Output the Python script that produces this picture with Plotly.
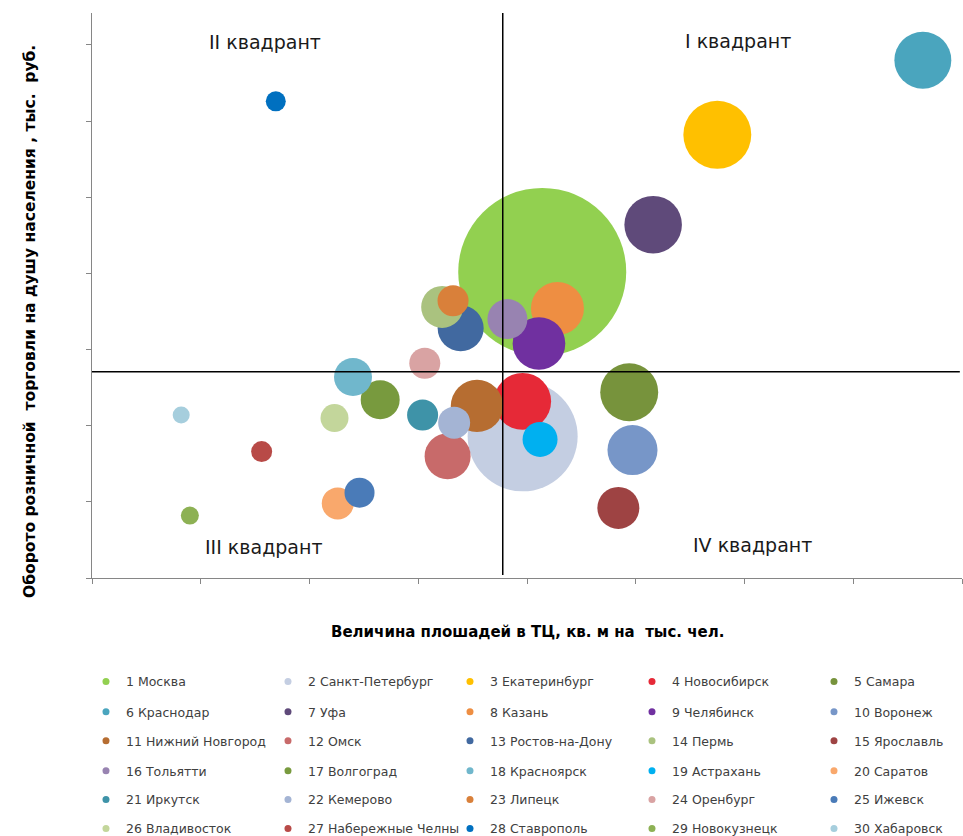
import plotly.graph_objects as go

# ---- data ----
cities = ["1 Москва", "2 Санкт-Петербург", "3 Екатеринбург", "4 Новосибирск", "5 Самара",
          "6 Краснодар", "7 Уфа", "8 Казань", "9 Челябинск", "10 Воронеж",
          "11 Нижний Новгород", "12 Омск", "13 Ростов-на-Дону", "14 Пермь", "15 Ярославль",
          "16 Тольятти", "17 Волгоград", "18 Красноярск", "19 Астрахань", "20 Саратов",
          "21 Иркутск", "22 Кемерово", "23 Липецк", "24 Оренбург", "25 Ижевск",
          "26 Владивосток", "27 Набережные Челны", "28 Ставрополь", "29 Новокузнецк", "30 Хабаровск"]

# area of trade centres, sq. m per 1000 people (estimated)
area_per_1000 = [414, 396, 575, 396, 494, 764, 516, 428, 411, 497,
                 354, 327, 339, 322, 484, 382, 265, 240, 412, 226,
                 304, 333, 332, 306, 246, 223, 156, 169, 90, 82]

# retail turnover per capita, thous. rub. (estimated)
turnover_per_capita = [201, 93, 291, 116, 122, 340, 232, 177, 154, 84,
                       113, 80, 164, 178, 46, 170, 117, 132, 91, 49,
                       107, 102, 182, 141, 56, 105, 83, 313, 41, 107]

# bubble size (estimated, population-like)
bubble_size = [11500, 4930, 1880, 1320, 1370, 1320, 1350, 1145, 1130, 1020,
               1120, 862, 862, 719, 719, 652, 620, 588, 499, 417,
               392, 417, 392, 392, 367, 320, 180, 163, 132, 118]

colors = ["#92D050", "#C4CEE2", "#FFC000", "#E62937", "#77933C",
          "#4AA5BE", "#5F4A7A", "#EE8E42", "#7030A0", "#7796C8",
          "#B66D31", "#C86A6A", "#4169A0", "#AAC27F", "#9E4343",
          "#9883B1", "#789A3E", "#70B7CC", "#00B0F0", "#F9A86C",
          "#3E93A8", "#A4B4D4", "#D9803A", "#D9A3A3", "#4A7BB8",
          "#C3D69B", "#B84A47", "#0070C0", "#8DB154", "#A6CEDD"]

quadrant_x = 377.7
quadrant_y = 135.4
x_range = [0, 800]
y_range = [0, 371]

quadrant_labels = ["I квадрант", "II квадрант", "III квадрант", "IV квадрант"]
quadrant_label_pos = [(594, 352.4), (159, 351.7), (158, 20.3), (607, 21.7)]

x_title = "Величина плошадей в ТЦ, кв. м на  тыс. чел."
y_title = "Оборото розничной  торговли на душу населения , тыс.  руб."

# ---- figure ----
fig = go.Figure()
sizeref = 2.0 * max(bubble_size) / (168 ** 2)

for i, name in enumerate(cities):
    fig.add_trace(go.Scatter(
        x=[area_per_1000[i]], y=[turnover_per_capita[i]],
        mode="markers", name=name, showlegend=False,
        marker=dict(size=[bubble_size[i]], sizemode="area", sizeref=sizeref,
                    color=colors[i], line=dict(width=0), opacity=1),
        cliponaxis=False,
    ))

# legend entries (6 rows x 5 columns)
row_y = [-0.184, -0.2372, -0.2885, -0.3416, -0.3929, -0.4442]
for i, name in enumerate(cities):
    row = i // 5
    lg = "legend" if row == 0 else f"legend{row + 1}"
    fig.add_trace(go.Scatter(
        x=[None], y=[None], mode="markers", name=name,
        marker=dict(size=7, color=colors[i]),
        legend=lg, showlegend=True,
    ))

legend_font = dict(family="DejaVu Sans", size=12.5, color="#404040")
legends = {}
for r in range(6):
    key = "legend" if r == 0 else f"legend{r + 1}"
    legends[key] = dict(
        orientation="h", x=-0.0069, xanchor="left", y=row_y[r], yanchor="middle",
        entrywidth=137, entrywidthmode="pixels", itemwidth=30,
        font=legend_font, bgcolor="rgba(0,0,0,0)", borderwidth=0,
        traceorder="normal", itemclick=False, itemdoubleclick=False,
    )

shapes = [
    dict(type="line", xref="x", yref="y", x0=x_range[0], x1=798, y0=quadrant_y, y1=quadrant_y,
         line=dict(color="#000000", width=1.5)),
    dict(type="line", xref="x", yref="y", x0=quadrant_x, x1=quadrant_x, y0=2, y1=y_range[1],
         line=dict(color="#000000", width=1.5)),
]

annotations = []
for lab, (ax, ay) in zip(quadrant_labels, quadrant_label_pos):
    annotations.append(dict(x=ax, y=ay, xref="x", yref="y", text=lab, showarrow=False,
                            font=dict(family="DejaVu Sans", size=19, color="#1a1a1a"),
                            xanchor="center", yanchor="middle"))
annotations.append(dict(x=0.501, y=-0.0956, xref="paper", yref="paper", text="<b>" + x_title + "</b>",
                        showarrow=False, font=dict(family="DejaVu Sans", size=15, color="#000000"),
                        xanchor="center", yanchor="middle"))
annotations.append(dict(x=-0.0713, y=0.455, xref="paper", yref="paper", text="<b>" + y_title + "</b>",
                        showarrow=False, textangle=-90,
                        font=dict(family="DejaVu Sans", size=15.5, color="#000000"),
                        xanchor="center", yanchor="middle"))

fig.update_layout(
    width=963, height=836,
    margin=dict(l=92, r=1, t=13, b=258, autoexpand=False),
    paper_bgcolor="white", plot_bgcolor="white",
    xaxis=dict(range=x_range, dtick=100, tick0=0, showticklabels=False, showgrid=False,
               zeroline=False, showline=True, linecolor="#868686", linewidth=1,
               ticks="outside", ticklen=5, tickcolor="#868686"),
    yaxis=dict(range=y_range, dtick=50, tick0=0, showticklabels=False, showgrid=False,
               zeroline=False, showline=True, linecolor="#868686", linewidth=1,
               ticks="outside", ticklen=5, tickcolor="#868686"),
    shapes=shapes, annotations=annotations,
    **legends,
)

fig.write_html("out.html", config={"displayModeBar": False},
               post_script="document.body.style.margin='0';")
